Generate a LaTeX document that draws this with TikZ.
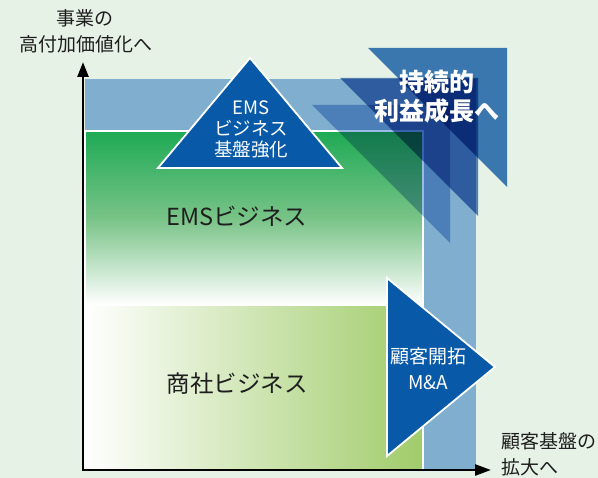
\documentclass[tikz,border=0pt]{standalone}
\usepackage{fontspec}
\setmainfont{Noto Sans CJK JP}
\usetikzlibrary{arrows.meta}
\definecolor{bg}{RGB}{230,242,230}
\definecolor{lblue}{RGB}{128,174,207}
\definecolor{emsgreen}{RGB}{30,170,85}
\definecolor{emsmid}{RGB}{120,195,135}
\definecolor{tradegreen}{RGB}{160,204,106}
\definecolor{triblue}{RGB}{8,90,168}
\definecolor{cA}{RGB}{64,126,193}
\definecolor{cB}{RGB}{94,135,195}
\definecolor{cC}{RGB}{153,186,227}
\definecolor{ink}{RGB}{30,30,30}
\begin{document}
\begin{tikzpicture}[x=1pt,y=-1pt,
  lbl/.style={font=\fontsize{19}{26}\selectfont, text=ink, inner sep=0pt},
  big/.style={font=\fontsize{23.5}{26}\selectfont, text=ink, inner sep=0pt},
  wtext/.style={font=\fontsize{18.5}{21}\selectfont, text=white, align=center, inner sep=0pt},
  wtextb/.style={font=\fontsize{19}{26}\selectfont, text=white, align=center, inner sep=0pt},
  wbold/.style={font=\fontsize{25}{29}\selectfont\bfseries, text=white, align=center, inner sep=0pt},
  bluetri/.style={fill=triblue, draw=white, line width=1.8pt, line join=miter},
  corner/.style={blend mode=multiply},
  axis/.style={line width=2.6pt, black, {Triangle[length=15pt,width=11pt]}-{Triangle[length=16pt,width=11pt]}}
]
\useasboundingbox (0,0) rectangle (598,478);
\fill[bg] (0,0) rectangle (598,478);
% light blue L
\fill[lblue] (85,79) rectangle (476,470);
% EMS business area
\path[draw=white, line width=1.5pt, top color=emsgreen, bottom color=white, middle color=emsmid] (85,131) rectangle (423,305);
% trading business area
\path[draw=white, line width=1.5pt, left color=white, right color=tradegreen] (85,305) rectangle (423,470);
% corner growth triangles
\fill[corner, cC] (312,105) -- (450,105) -- (450,243) -- cycle;
\fill[corner, cB] (340,78) -- (478,78) -- (478,216) -- cycle;
\fill[corner, cA] (368,48) -- (507,48) -- (507,187) -- cycle;
% blue triangles
\path[bluetri] (250,58) -- (342,168) -- (158,168) -- cycle;
\path[bluetri] (387,278) -- (495,367) -- (387,456) -- cycle;
% axes
\coordinate (O) at (83,470);
\coordinate (Ytip) at (83,62);
\coordinate (Xtip) at (491,470);
\draw[axis] (Ytip) -- (O) -- (Xtip);
% texts
\node[lbl] (yl1) at (85,18) {事業の};
\node[lbl] (yl2) at (86,44) {高付加価値化へ};
\node[lbl, anchor=west] (xl1) at (501,441) {顧客基盤の};
\node[lbl, anchor=west] (xl2) at (501,467) {拡大へ};
\node[big] (ems) at (237,216) {EMSビジネス};
\node[big] (trade) at (237,384) {商社ビジネス};
\node[wtext] (emsT) at (251,129) {EMS\\ビジネス\\基盤強化};
\node[wbold] (growth) at (437,97) {持続的\\利益成長へ};
\node[wtextb] (cust) at (428,369) {顧客開拓\\M\&A};
\end{tikzpicture}
\end{document}
